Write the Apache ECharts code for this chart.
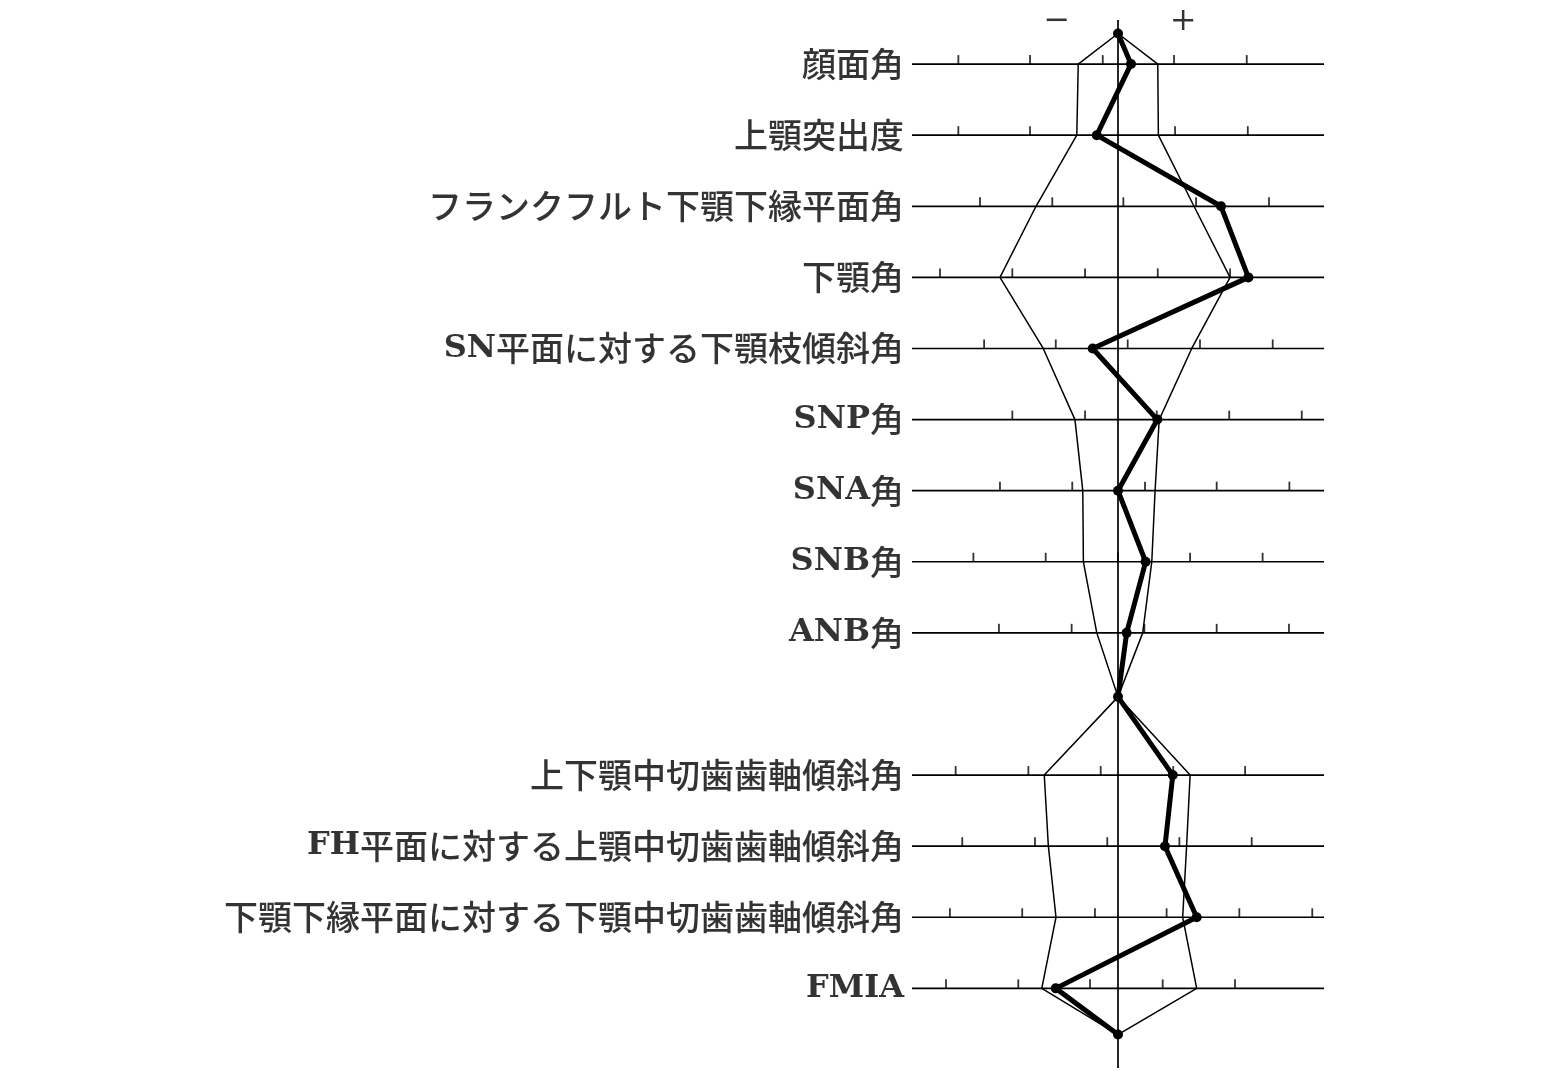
<!DOCTYPE html>
<html>
<head>
<meta charset="utf-8">
<script src="https://cdn.jsdelivr.net/npm/echarts@6/dist/echarts.min.js"></script>
<style>
html,body{margin:0;padding:0;background:#fff;}
#chart{width:1541px;height:1089px;}
</style>
</head>
<body>
<div id="chart"></div>
<script>
// Row labels (row index = vertical position, 0 = top row)
const labels = ['顔面角','上顎突出度','フランクフルト下顎下縁平面角','下顎角','SN平面に対する下顎枝傾斜角','SNP角','SNA角','SNB角','ANB角','上下顎中切歯歯軸傾斜角','FH平面に対する上顎中切歯歯軸傾斜角','下顎下縁平面に対する下顎中切歯歯軸傾斜角','FMIA'];
const rowIndex = [0,1,2,3,4,5,6,7,8,10,11,12,13];

// Polygon vertices: top apex, rows 0-8, middle apex, rows 10-13, bottom apex
const vertexY = [-0.43,0,1,2,3,4,5,6,7,8,8.9,10,11,12,13,13.65];
// Patient values (normalized deviation units, 0 = mean)
const patient = [0,0.63,-1.03,5.0,6.33,-1.23,1.91,0,1.34,0.42,0,2.66,2.28,3.82,-3.02,0];
// Standard range band (mean - 1SD / mean + 1SD)
const bandLow  = [0,-1.93,-2.0,-3.98,-5.73,-3.63,-2.09,-1.71,-1.68,-1.03,0,-3.58,-3.38,-3.01,-3.70,0];
const bandHigh = [0,1.93,1.96,3.69,5.44,3.58,2.0,1.80,1.64,1.20,0,3.50,3.33,3.14,3.82,0];

// Scale tick positions on each row line
const rowTicks = [
  [-7.75,-4.27,-0.74,2.72,6.25],
  [-7.75,-4.27,2.77,6.30],
  [-6.70,-3.19,0.26,3.79,7.33],
  [-8.64,-5.13,-1.60,1.93,5.44],
  [-6.50,-3.02,0.47,3.98,7.51],
  [-5.13,-1.60,1.88,5.40,8.92],
  [-5.73,-2.22,1.31,4.79,8.32],
  [-7.02,-3.51,0,3.50,7.02],
  [-5.78,-2.25,1.28,4.79,8.30],
  [-7.88,-4.35,-0.84,2.68,6.17],
  [-7.56,-4.03,-0.52,2.98,6.49],
  [-8.16,-4.65,-1.12,2.36,5.89,9.43],
  [-8.35,-4.84,-1.36,2.17,5.68]
];
const signLabels = ['−','+'];
const signX = [-2.96,3.16];

const X_MIN = -10, X_MAX = 10, Y_MIN = -0.62, Y_MAX = 14.12;

// wrap Latin runs in a rich-text style so they render in a serif face
function richLabel(s){
  return s.replace(/[A-Za-z]+/g, function(m){ return '{l|' + m + '}'; });
}

const series = [];
// row lines
const rowLineData = [];
rowIndex.forEach(function(r){ rowLineData.push([X_MIN,r],[X_MAX,r],['-','-']); });
series.push({type:'line',data:rowLineData,symbol:'none',connectNulls:false,
  lineStyle:{color:'#000',width:1.7},silent:true,z:2});
// center line
series.push({type:'line',data:[[0,Y_MIN],[0,Y_MAX]],symbol:'none',
  lineStyle:{color:'#000',width:1.7},silent:true,z:2});
// ticks
const tickData = [];
rowTicks.forEach(function(t,i){ t.forEach(function(v){ tickData.push([v,rowIndex[i]]); }); });
series.push({type:'scatter',data:tickData,symbol:'rect',symbolSize:[1.8,9],symbolOffset:[0,-4.5],
  itemStyle:{color:'#000'},silent:true,z:3});
// band
series.push({type:'line',data:bandLow.map(function(v,i){return [v,vertexY[i]];}),symbol:'none',
  lineStyle:{color:'#000',width:1.5},silent:true,z:4});
series.push({type:'line',data:bandHigh.map(function(v,i){return [v,vertexY[i]];}),symbol:'none',
  lineStyle:{color:'#000',width:1.5},silent:true,z:4});
// patient line
series.push({type:'line',data:patient.map(function(v,i){return [v,vertexY[i]];}),symbol:'circle',symbolSize:10,
  lineStyle:{color:'#000',width:5},itemStyle:{color:'#000'},silent:true,z:5});
// row labels
series.push({type:'scatter',data:rowIndex.map(function(r,i){return {value:[X_MIN,r],name:labels[i]};}),
  symbolSize:0,silent:true,z:6,
  label:{show:true,position:'left',distance:8,
    formatter:function(p){ return richLabel(p.name); },
    color:'#000',fontSize:34,fontWeight:500,
    fontFamily:"'Noto Sans CJK JP',sans-serif",
    rich:{l:{fontFamily:"'DejaVu Serif',serif",fontWeight:'bold',fontSize:32,color:'#000'}}}});
// sign labels
series.push({type:'scatter',data:signX.map(function(x,i){return {value:[x,-0.59],name:signLabels[i]};}),
  symbolSize:0,silent:true,z:6,
  label:{show:true,position:'inside',formatter:'{b}',color:'#000',fontSize:32,
    fontFamily:"'DejaVu Serif',serif"}});

const chart = echarts.init(document.getElementById('chart'));
chart.setOption({
  animation:false,
  backgroundColor:'#fff',
  grid:{left:912,right:217,top:20,bottom:21,containLabel:false},
  xAxis:{type:'value',min:X_MIN,max:X_MAX,show:false},
  yAxis:{type:'value',min:Y_MIN,max:Y_MAX,inverse:true,show:false},
  series:series
});
</script>
</body>
</html>
